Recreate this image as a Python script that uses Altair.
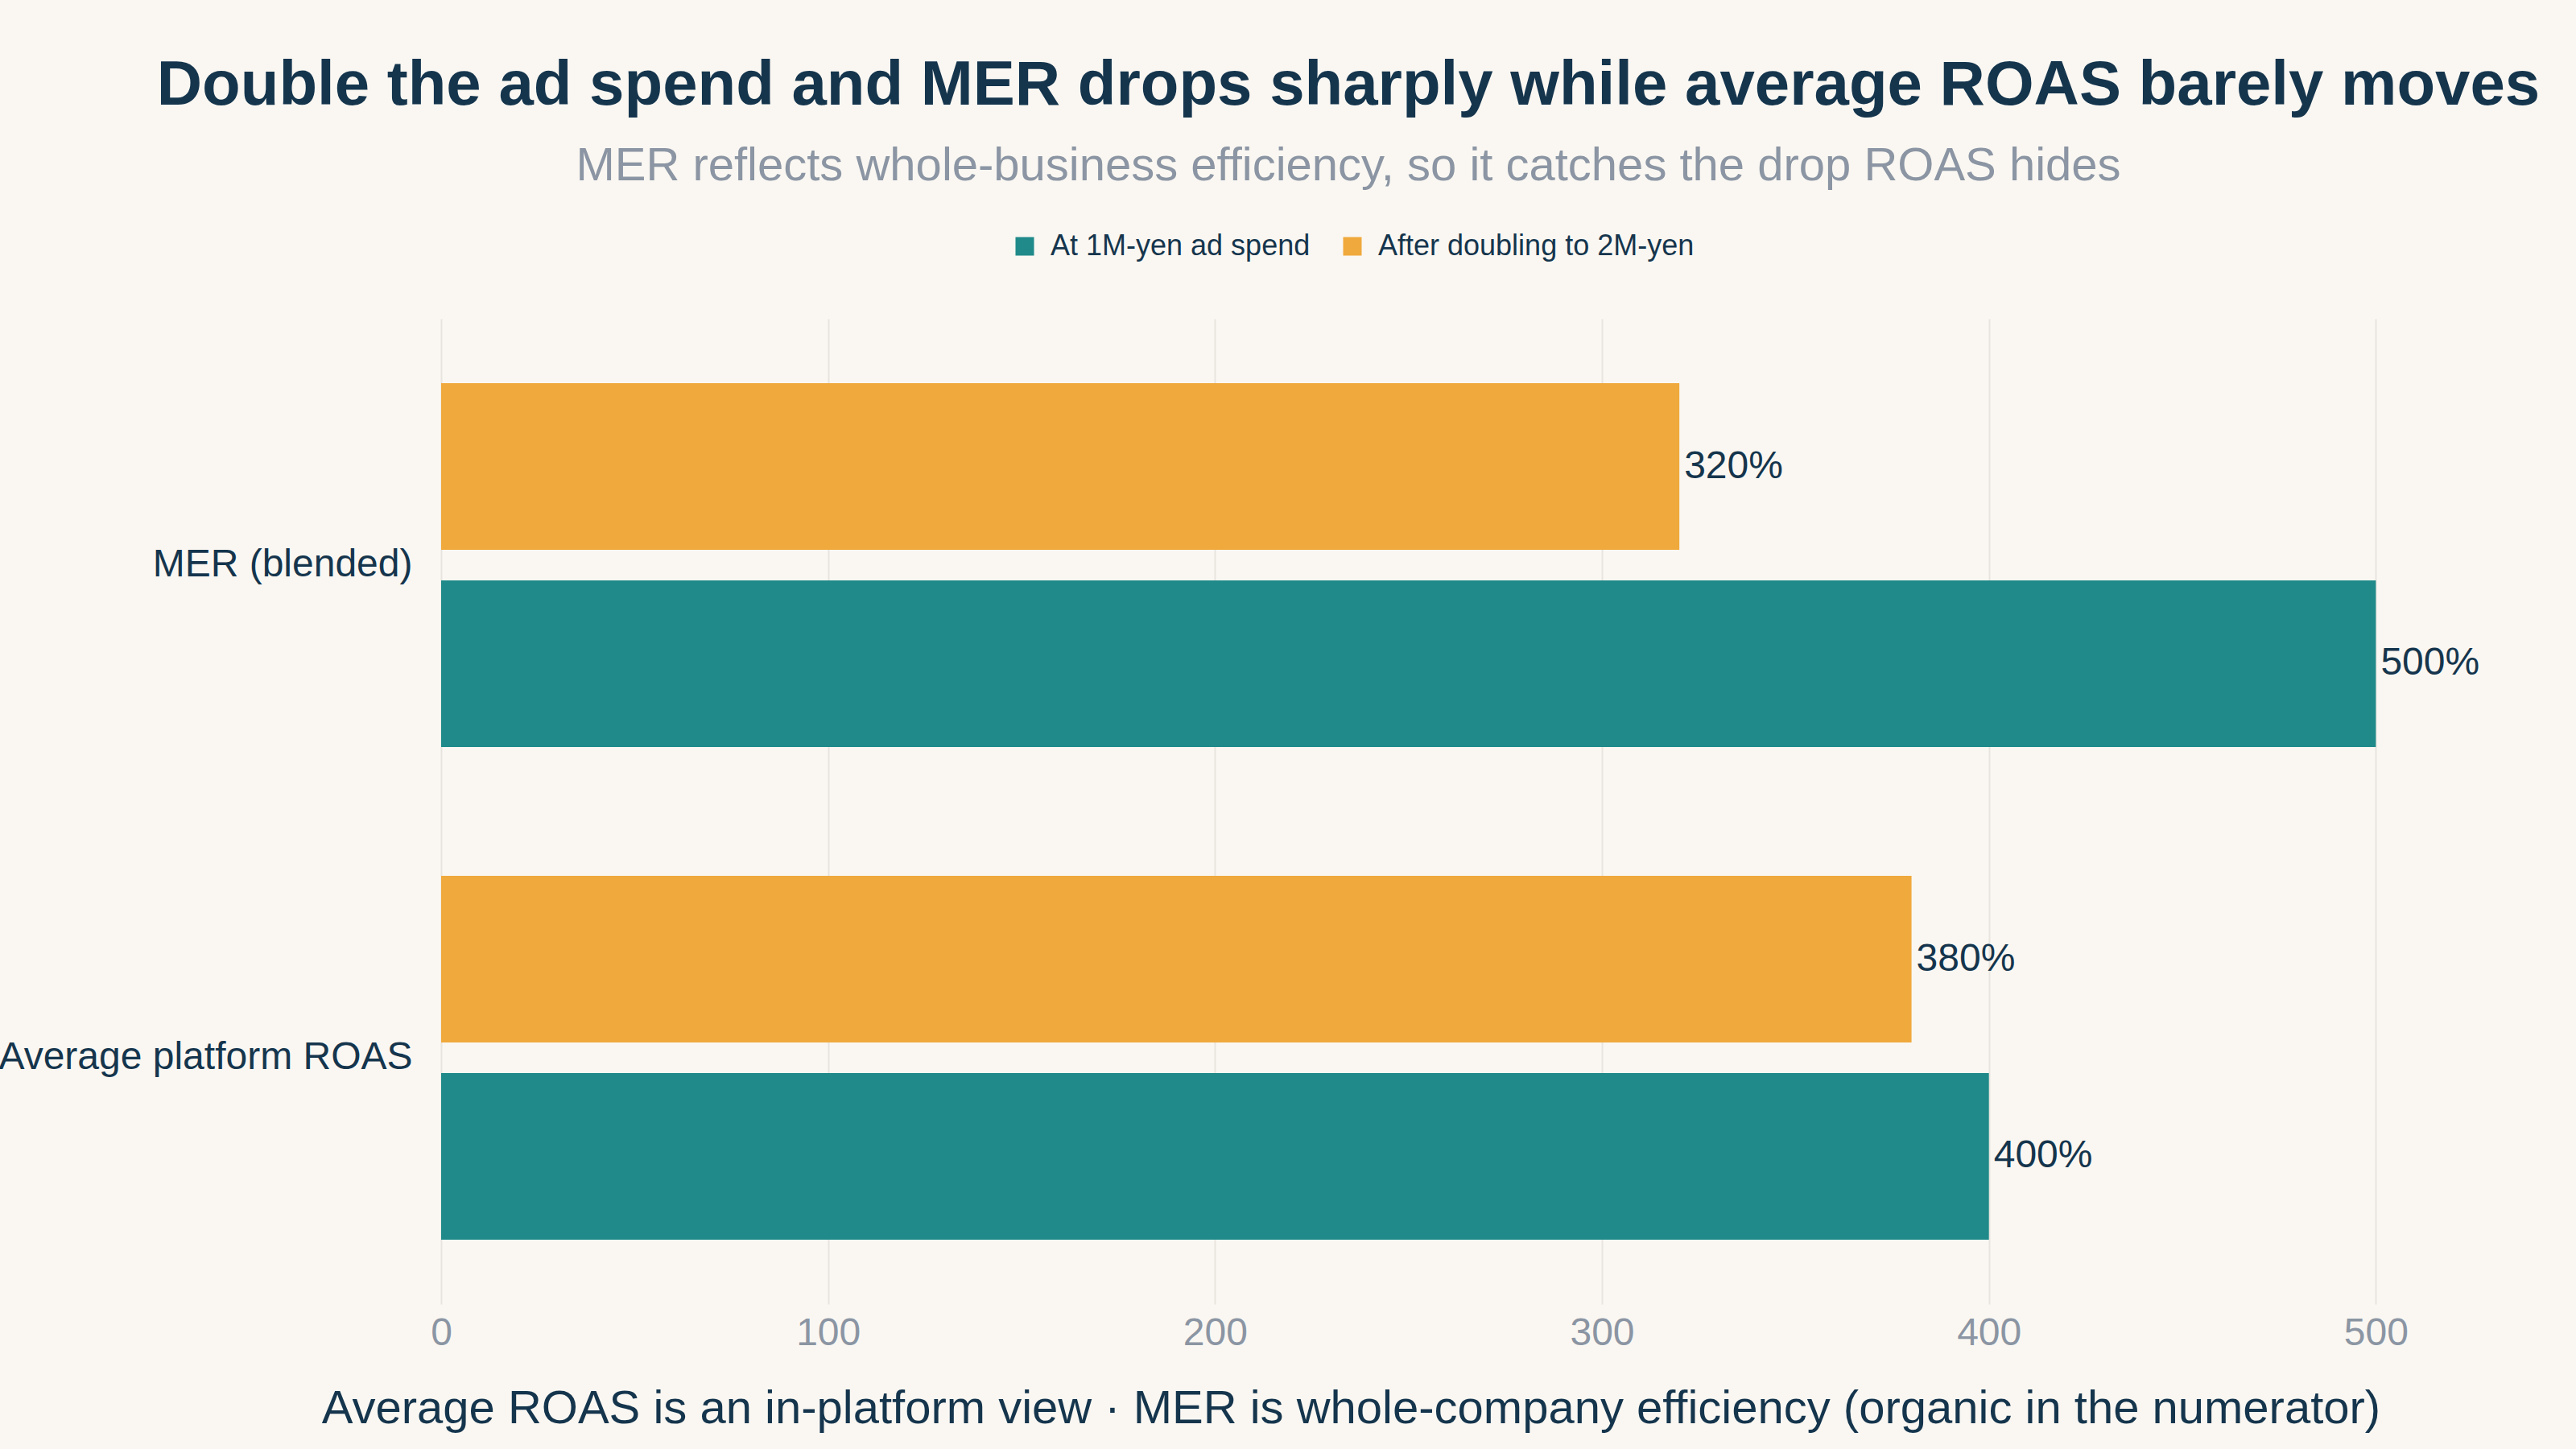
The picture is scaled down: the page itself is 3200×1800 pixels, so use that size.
import altair as alt
import pandas as pd

metrics = ["MER (blended)", "Average platform ROAS"]
series = ["At 1M-yen ad spend", "After doubling to 2M-yen"]
before_vals = [500, 400]
after_vals = [320, 380]

rows = []
for m, b, a in zip(metrics, before_vals, after_vals):
    rows.append({"metric": m, "series": series[0], "value": b, "label": f"{b}%"})
    rows.append({"metric": m, "series": series[1], "value": a, "label": f"{a}%"})
df = pd.DataFrame(rows)

FONT = "Liberation Sans"
NAVY = "#15354D"
GRAY = "#8B95A3"
TEAL = "#1F8A89"
ORANGE = "#F0A93C"
BG = "#FAF7F2"

y_enc = alt.Y("metric:N", sort=metrics, title=None,
              scale=alt.Scale(paddingInner=0.2614, paddingOuter=0.1307),
              axis=alt.Axis(labelFontSize=48, labelColor=NAVY, labelFont=FONT,
                            labelPadding=36, ticks=False, domain=False, grid=False,
                            labelLimit=1000))
yoff_enc = alt.YOffset("series:N", sort=[series[1], series[0]],
                       scale=alt.Scale(paddingInner=0.155, paddingOuter=0))
x_enc = alt.X("value:Q", title="Average ROAS is an in-platform view · MER is whole-company efficiency (organic in the numerator)",
              scale=alt.Scale(domain=[0, 533], nice=False),
              axis=alt.Axis(values=[0, 100, 200, 300, 400, 500], labelFontSize=48,
                            labelColor=GRAY, labelFont=FONT, labelPadding=12,
                            labelFlush=False,
                            ticks=False, domain=False, grid=True, gridColor="#E8E4DE",
                            gridWidth=2, titleFontSize=58, titleColor=NAVY,
                            titleFont=FONT, titleFontWeight="normal",
                            titleX=1130, titleY=147, titleAlign="center",
                            titleBaseline="alphabetic"))

bars = alt.Chart(df).mark_bar().encode(
    y=y_enc,
    yOffset=yoff_enc,
    x=x_enc,
    color=alt.Color("series:N", sort=series,
                    scale=alt.Scale(domain=series, range=[TEAL, ORANGE]),
                    legend=alt.Legend(title=None, orient="none", direction="horizontal",
                                      legendX=707, legendY=-108, labelFontSize=36,
                                      labelColor=NAVY, labelFont=FONT, symbolType="square",
                                      symbolSize=530, symbolStrokeWidth=0,
                                      labelLimit=1000,
                                      columnPadding=34, labelOffset=14)),
)

labels = alt.Chart(df).mark_text(align="left", baseline="middle", dx=6,
                                 fontSize=48, font=FONT, color=NAVY).encode(
    y=alt.Y("metric:N", sort=metrics),
    yOffset=alt.YOffset("series:N", sort=[series[1], series[0]]),
    x=alt.X("value:Q"),
    text="label:N",
)

chart = alt.layer(bars, labels).properties(
    width=2562, height=1224,
    background=BG,
    autosize=alt.AutoSizeParams(type="none"),
    padding={"left": 548, "top": 396, "right": 90, "bottom": 180},
    title=alt.TitleParams(
        text="Double the ad spend and MER drops sharply while average ROAS barely moves",
        subtitle="MER reflects whole-business efficiency, so it catches the drop ROAS hides",
        anchor="middle", frame="group", dx=-154, fontSize=78, fontWeight="bold",
        color=NAVY, font=FONT, subtitleFontSize=58, subtitleColor=GRAY,
        subtitleFont=FONT, subtitlePadding=32, offset=52,
    ),
).configure_view(stroke=None)

chart.save("out.html", embed_options={"renderer": "svg", "actions": False})
